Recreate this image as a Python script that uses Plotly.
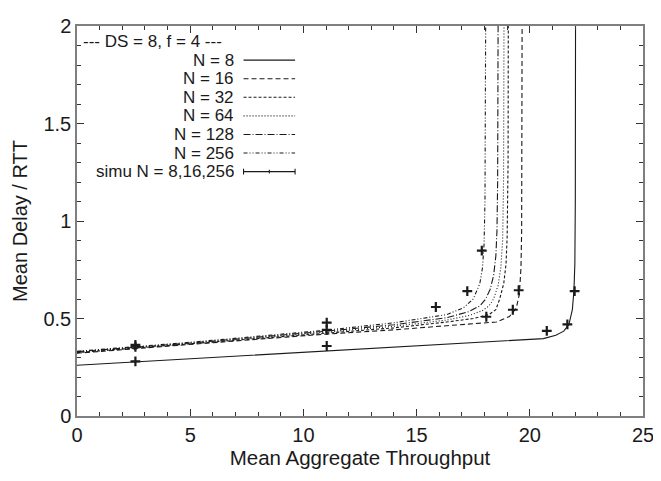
import plotly.graph_objects as go

# ---- data ----
x_n8 = [0, 5, 10, 15, 18, 20, 20.6, 21.15, 21.5, 21.73, 21.88, 21.95, 21.99, 22.01, 22.02]
y_n8 = [0.26, 0.293, 0.327, 0.36, 0.38, 0.392, 0.397, 0.414, 0.435, 0.47, 0.545, 0.645, 0.78, 1.1, 2.0]

x_n16 = [0, 3, 7.57, 11, 14.14, 16.33, 17.5, 18.52, 19.1, 19.4, 19.54, 19.61, 19.64, 19.655, 19.66]
y_n16 = [0.322, 0.35, 0.39, 0.42, 0.443, 0.463, 0.472, 0.482, 0.51, 0.552, 0.625, 0.76, 0.95, 1.4, 2.0]

x_n32 = [0, 5, 11, 14, 16.33, 17.5, 18.2, 18.5, 18.67, 18.85, 18.95, 19.0, 19.04, 19.05]
y_n32 = [0.325, 0.37, 0.425, 0.452, 0.482, 0.5, 0.52, 0.545, 0.6, 0.68, 0.78, 0.92, 1.3, 2.0]

x_n64 = [0, 5, 11, 14, 16.33, 17.3, 17.9, 18.2, 18.4, 18.6, 18.72, 18.8, 18.84, 18.86]
y_n64 = [0.327, 0.372, 0.43, 0.46, 0.492, 0.515, 0.54, 0.565, 0.6, 0.67, 0.76, 0.9, 1.2, 2.0]

x_n128 = [0, 5, 11, 14, 16.33, 17.3, 17.8, 18.05, 18.25, 18.4, 18.5, 18.55, 18.58, 18.6]
y_n128 = [0.33, 0.374, 0.435, 0.468, 0.504, 0.535, 0.565, 0.6, 0.65, 0.72, 0.82, 0.95, 1.2, 2.0]

x_n256 = [0, 5, 11, 14, 16.33, 17.06, 17.5, 17.79, 17.91, 17.98, 18.02, 18.04, 18.05]
y_n256 = [0.332, 0.378, 0.44, 0.478, 0.52, 0.554, 0.6, 0.678, 0.76, 0.88, 1.1, 1.5, 2.0]

x_simu = [2.58, 11.03, 20.75, 21.66, 21.98,
          2.58, 11.03, 18.08, 19.25, 19.51,
          2.58, 11.03, 15.85, 17.24, 17.88]
y_simu = [0.28, 0.359, 0.437, 0.47, 0.64,
          0.355, 0.442, 0.509, 0.545, 0.645,
          0.365, 0.479, 0.559, 0.64, 0.848]

legend_title = "--- DS = 8, f = 4 ---"
legend_labels = ["N = 8", "N = 16", "N = 32", "N = 64", "N = 128", "N = 256", "simu N = 8,16,256"]
x_ticks = [0, 5, 10, 15, 20, 25]
y_ticks = [0, 0.5, 1, 1.5, 2]
y_tick_text = ["0", "0.5", "1", "1.5", "2"]

# ---- styling ----
FONT = "Liberation Sans, Arial, Helvetica, sans-serif"
INK = "#1a1a1a"
dashes = ["solid", "5px,3px", "3px,2px", "1px,2px", "7px,2px,1px,2px", "4px,2px,1px,2px,1px,2px"]

fig = go.Figure()
curves = [(x_n8, y_n8), (x_n16, y_n16), (x_n32, y_n32), (x_n64, y_n64), (x_n128, y_n128), (x_n256, y_n256)]
for (xs, ys), d, name in zip(curves, dashes, legend_labels):
    fig.add_trace(go.Scatter(x=xs, y=ys, mode="lines", name=name, showlegend=False,
                             line=dict(color=INK, width=1.1, dash=d)))

fig.add_trace(go.Scatter(x=x_simu, y=y_simu, mode="markers", name=legend_labels[-1], showlegend=False,
                         marker=dict(symbol="cross-thin", size=7, line=dict(color=INK, width=2.2))))

# ---- page geometry (body has an 8px default margin) ----
OFF = 8
PL, PR, PT, PB = 77, 648, 15, 416          # plot area in page pixels
W, H = 661 - OFF, 481 - OFF
L, T = PL - OFF, PT - OFF
R, B = (OFF + W) - PR, (OFF + H) - PB
pw, ph = PR - PL, PB - PT

def px(x):
    return (x - PL) / pw

def py(y):
    return (PB - y) / ph

LEG_FONT = dict(family=FONT, size=17, color=INK)
row_y = [31 + 19.1 * k for k in range(8)]
annotations = [dict(text=legend_title, x=px(81), y=py(row_y[0]), xref="paper", yref="paper",
                    xanchor="left", yanchor="middle", showarrow=False, height=17, font=LEG_FONT)]
shapes = []
for i, lab in enumerate(legend_labels):
    yy = py(row_y[i + 1])
    annotations.append(dict(text=lab, x=px(237), y=yy, xref="paper", yref="paper",
                            xanchor="right", yanchor="middle", showarrow=False, height=17, font=LEG_FONT))
    shapes.append(dict(type="line", xref="paper", yref="paper", x0=px(245), x1=px(297), y0=yy, y1=yy,
                       line=dict(color=INK, width=1.1, dash=dashes[i] if i < 6 else "solid")))
    if i == 6:
        for xc, hh in [(245, 3), (297, 3), (271, 2)]:
            shapes.append(dict(type="line", xref="paper", yref="paper", x0=px(xc), x1=px(xc),
                               y0=yy - hh / ph, y1=yy + hh / ph, line=dict(color=INK, width=1.1)))

axis_common = dict(showgrid=False, zeroline=False, showline=True, linecolor="#7f7f7f", linewidth=1.5,
                   mirror="allticks", ticks="inside", ticklen=7, tickwidth=1, tickcolor="#333333",
                   ticklabeloverflow="allow",
                   tickfont=dict(family=FONT, size=20, color=INK))

fig.update_layout(
    width=W, height=H,
    margin=dict(l=L, r=R, t=T, b=B),
    plot_bgcolor="white", paper_bgcolor="white",
    showlegend=False,
    annotations=annotations, shapes=shapes,
    xaxis=dict(range=[0, 25], tickvals=x_ticks, ticktext=[str(v) for v in x_ticks],
               minor=dict(dtick=1, ticks="inside", ticklen=4, tickcolor="#333333", showgrid=False),
               title=dict(text="Mean Aggregate Throughput", font=dict(family=FONT, size=20.5, color=INK), standoff=4),
               **axis_common),
    yaxis=dict(range=[0, 2], tickvals=y_ticks, ticktext=y_tick_text,
               minor=dict(dtick=0.1, ticks="inside", ticklen=4, tickcolor="#333333", showgrid=False),
               title=dict(text="Mean Delay / RTT", font=dict(family=FONT, size=20, color=INK), standoff=10),
               **axis_common),
)

fig.write_html("out.html")
